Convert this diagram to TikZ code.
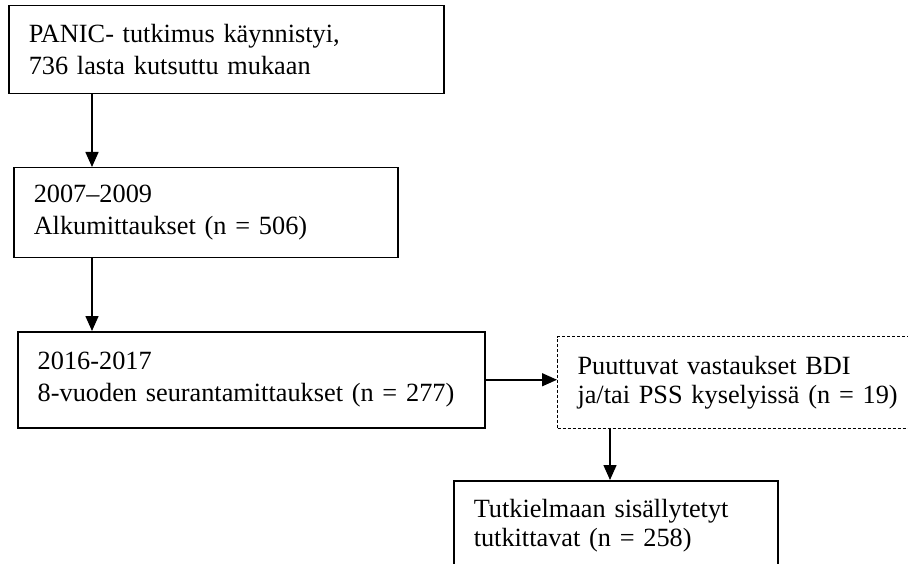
\documentclass[tikz,border=0pt]{standalone}
\usepackage{fontspec}
\setmainfont{Liberation Serif}
\usetikzlibrary{arrows.meta}
\tikzset{
  box/.style={draw=black, line width=1.5pt, rectangle, anchor=north west, inner xsep=20pt, inner ysep=0pt, align=left, font=\fontsize{26.3}{32}\selectfont},
  boxd/.style={box, line width=1pt, dash pattern=on 3pt off 2pt, font=\fontsize{26.3}{28.5}\selectfont},
  boxr/.style={box, font=\fontsize{26.3}{28.5}\selectfont},
  arr/.style={draw=black, line width=1.5pt, -{Triangle[length=15pt,width=13pt]}},
}
\begin{document}
\begin{tikzpicture}[x=1pt,y=1pt]
  \useasboundingbox (0,0) rectangle (908,-564);
  \coordinate (cL) at (92,0);
  \coordinate (cR) at (610,0);
  \node[box, minimum width=435pt, minimum height=88pt, text width=395pt] (start) at (8,-5)
    {PANIC- tutkimus käynnistyi,\\736 lasta kutsuttu mukaan};
  \node[box, minimum width=384pt, minimum height=90pt, text width=344pt] (base) at (13,-167)
    {2007–2009\\Alkumittaukset (n = 506)};
  \node[box, minimum width=467pt, minimum height=96pt, text width=427pt] (follow) at (17,-331)
    {2016-2017\\8-vuoden seurantamittaukset (n = 277)};
  \node[boxd, minimum width=380pt, minimum height=92pt, text width=340pt] (missing) at (557,-336)
    {Puuttuvat vastaukset BDI\\ja/tai PSS kyselyissä (n = 19)};
  \node[boxr, minimum width=324pt, minimum height=90pt, text width=284pt] (final) at (453,-480)
    {Tutkielmaan sisällytetyt\\tutkittavat (n = 258)};
  \draw[arr] (start.south -| cL) -- (base.north -| cL);
  \draw[arr] (base.south -| cL) -- (follow.north -| cL);
  \draw[arr] (follow.east) -- (follow.east -| missing.west);
  \draw[arr] (missing.south -| cR) -- (final.north -| cR);
\end{tikzpicture}
\end{document}
